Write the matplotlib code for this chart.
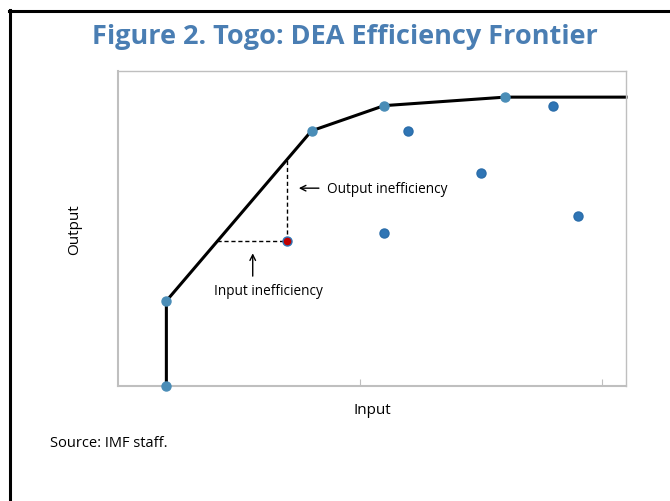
"""Togo: DEA efficiency frontier."""

import matplotlib.pyplot as plt
from matplotlib.lines import Line2D
import numpy as np

plt.rcParams['font.family'] = ['Open Sans', 'DejaVu Sans']

# frontier (efficient units)
frontier_x = [2, 2, 8, 11, 16]
frontier_y = [0.0, 2.7, 8.1, 8.9, 9.17]
# other units
other_x = [18, 12, 15, 19, 11]
other_y = [8.9, 8.1, 6.75, 5.4, 4.85]
# inefficient unit highlighted
red_x = 7
red_y = 4.6

x_max = 21
y_max = 10

fig = plt.figure(figsize=(6.7, 5.02), dpi=100)
ax = fig.add_axes([0.1761, 0.2291, 0.7582, 0.6275])

line_x = frontier_x + [x_max]
line_y = frontier_y + [frontier_y[-1]]
ax.plot(line_x, line_y, color='black', lw=2.2, zorder=2, clip_on=False)
ax.plot(frontier_x, frontier_y, 'o', ms=6.5, color='#4A8DB7', zorder=3,
        clip_on=False)
ax.plot(other_x, other_y, 'o', ms=6.5, color='#2F75B5', mec='#2A6DAA',
        zorder=3)
ax.plot(red_x, red_y, 'o', ms=6.5, color='#C00000', mec='#2F75B5', zorder=4)

# distances to the frontier
up_y = np.interp(red_x, frontier_x[1:], frontier_y[1:])
left_x = np.interp(red_y, frontier_y[1:], frontier_x[1:])
ax.plot([red_x, red_x], [red_y, up_y], color='black', ls=(0, (3, 2)),
        lw=1, zorder=1)
ax.plot([left_x, red_x], [red_y, red_y], color='black', ls=(0, (3, 2)),
        lw=1, zorder=1)

ax.annotate('', xy=(7.36, 6.28), xytext=(8.42, 6.28),
            arrowprops=dict(arrowstyle='->', color='black', lw=1))
ax.text(8.62, 6.28, 'Output inefficiency', fontsize=9.8, va='center',
        ha='left')
ax.annotate('', xy=(5.57, 4.3), xytext=(5.57, 3.4),
            arrowprops=dict(arrowstyle='->', color='black', lw=1))
ax.text(6.24, 3.03, 'Input inefficiency', fontsize=9.8, va='center',
        ha='center')

ax.set_xlim(0, x_max)
ax.set_ylim(0, y_max)
ax.set_xticks([10, 20])
ax.set_xticklabels([])
ax.set_yticks([])
ax.tick_params(axis='x', direction='in', length=5, color='#BFBFBF')
for side in ax.spines.values():
    side.set_color('#BFBFBF')
    side.set_linewidth(1)
ax.spines['bottom'].set_linewidth(1.5)
ax.spines['left'].set_linewidth(1.5)
ax.set_xlabel('Input', fontsize=11, labelpad=8)
ax.set_ylabel('Output', fontsize=11, labelpad=26)

fig.text(0.515, 0.927, 'Figure 2. Togo: DEA Efficiency Frontier',
         fontsize=19.5, fontweight='bold', color='#4A7EB3', ha='center',
         va='center')
fig.text(0.075, 0.117, 'Source: IMF staff.', fontsize=10.5, ha='left',
         va='center')

# page frame
fig.add_artist(Line2D([10 / 670, 10 / 670], [0, 1 - 11 / 502],
                      color='black', lw=2.2))
fig.add_artist(Line2D([9 / 670, 1], [1 - 12 / 502, 1 - 12 / 502],
                      color='black', lw=2.2))

fig.savefig('out.png', dpi=100)
